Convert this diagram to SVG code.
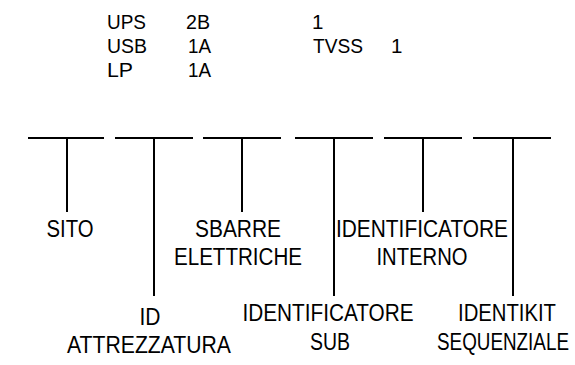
<svg xmlns="http://www.w3.org/2000/svg" width="575" height="365" viewBox="0 0 575 365">
<style>
text{font-family:"Liberation Sans",Arial,sans-serif;font-size:23px;fill:#000}
.top{font-size:20.5px}
.c{text-anchor:middle}
line{stroke:#000;stroke-width:2}
</style>
<rect width="575" height="365" fill="#fff"/>
<g id="legend">
<text class="top" x="107" y="29" textLength="39" lengthAdjust="spacingAndGlyphs">UPS</text>
<text class="top" x="186" y="29" textLength="24" lengthAdjust="spacingAndGlyphs">2B</text>
<text class="top" x="312" y="29">1</text>
<text class="top" x="107" y="53" textLength="40" lengthAdjust="spacingAndGlyphs">USB</text>
<text class="top" x="188" y="53" textLength="23" lengthAdjust="spacingAndGlyphs">1A</text>
<text class="top" x="313" y="53" textLength="50" lengthAdjust="spacingAndGlyphs">TVSS</text>
<text class="top" x="391" y="53">1</text>
<text class="top" x="107" y="77" textLength="26" lengthAdjust="spacingAndGlyphs">LP</text>
<text class="top" x="188" y="77" textLength="23" lengthAdjust="spacingAndGlyphs">1A</text>
</g>
<g id="connectors">
<line x1="28" y1="138" x2="104" y2="138"/><line x1="67" y1="138" x2="67" y2="212"/>
<line x1="115" y1="138" x2="193" y2="138"/><line x1="154" y1="138" x2="154" y2="296"/>
<line x1="203" y1="138" x2="281" y2="138"/><line x1="242" y1="138" x2="242" y2="212"/>
<line x1="295" y1="138" x2="373" y2="138"/><line x1="334" y1="138" x2="334" y2="296"/>
<line x1="384" y1="138" x2="462" y2="138"/><line x1="423" y1="138" x2="423" y2="212"/>
<line x1="473" y1="138" x2="551" y2="138"/><line x1="513" y1="138" x2="513" y2="296"/>
</g>
<g id="sito"><text class="c" x="70" y="237" textLength="47" lengthAdjust="spacingAndGlyphs">SITO</text></g>
<g id="id-attrezzatura"><text class="c" x="150" y="325" textLength="21" lengthAdjust="spacingAndGlyphs">ID</text><text class="c" x="149" y="353" textLength="164" lengthAdjust="spacingAndGlyphs">ATTREZZATURA</text></g>
<g id="sbarre"><text class="c" x="238" y="237" textLength="86" lengthAdjust="spacingAndGlyphs">SBARRE</text><text class="c" x="238" y="265" textLength="128" lengthAdjust="spacingAndGlyphs">ELETTRICHE</text></g>
<g id="id-sub"><text class="c" x="328" y="321" textLength="171" lengthAdjust="spacingAndGlyphs">IDENTIFICATORE</text><text class="c" x="330" y="350" textLength="40" lengthAdjust="spacingAndGlyphs">SUB</text></g>
<g id="id-interno"><text class="c" x="422" y="237" textLength="172" lengthAdjust="spacingAndGlyphs">IDENTIFICATORE</text><text class="c" x="422" y="265" textLength="91" lengthAdjust="spacingAndGlyphs">INTERNO</text></g>
<g id="identikit"><text class="c" x="507" y="321" textLength="98" lengthAdjust="spacingAndGlyphs">IDENTIKIT</text><text class="c" transform="translate(503 350) scale(0.82 1)" x="0" y="0">SEQUENZIALE</text></g>
</svg>
